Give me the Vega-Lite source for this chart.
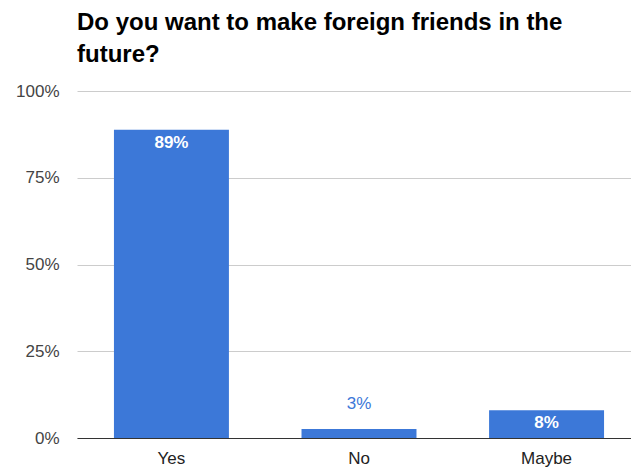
{
  "$schema": "https://vega.github.io/schema/vega-lite/v6.json",
  "width": 564,
  "height": 347,
  "autosize": {"type": "none"},
  "padding": {"left": 77, "top": 91, "right": 0, "bottom": 35},
  "background": "white",
  "title": {
    "text": ["Do you want to make foreign friends in the", "future?"],
    "anchor": "start",
    "frame": "group",
    "font": "Liberation Sans",
    "fontSize": 24,
    "fontWeight": "bold",
    "color": "#000000",
    "lineHeight": 32,
    "offset": 15
  },
  "data": {
    "values": [
      {"answer": "Yes", "value": 0.888},
      {"answer": "No", "value": 0.026},
      {"answer": "Maybe", "value": 0.08}
    ]
  },
  "encoding": {
    "x": {
      "field": "answer",
      "type": "nominal",
      "sort": null,
      "scale": {"paddingInner": 0.387, "paddingOuter": 0.197},
      "axis": {
        "title": null,
        "labelAngle": 0,
        "ticks": false,
        "domainColor": "#333333",
        "labelFont": "Liberation Sans",
        "labelFontSize": 17,
        "labelColor": "#222222",
        "labelPadding": 12
      }
    },
    "y": {
      "field": "value",
      "type": "quantitative",
      "scale": {"domain": [0, 1], "nice": false},
      "axis": {
        "title": null,
        "values": [0, 0.25, 0.5, 0.75, 1],
        "format": ".0%",
        "domain": false,
        "ticks": false,
        "gridColor": "#cccccc",
        "labelFont": "Liberation Sans",
        "labelFontSize": 17,
        "labelColor": "#444444",
        "labelPadding": 18
      }
    }
  },
  "layer": [
    {"mark": {"type": "bar", "color": "#3c78d8"}},
    {
      "transform": [{"filter": "datum.value >= 0.05"}],
      "mark": {"type": "text", "baseline": "top", "dy": 5, "color": "#ffffff", "font": "Liberation Sans", "fontSize": 17, "fontWeight": "bold"},
      "encoding": {"text": {"field": "value", "type": "quantitative", "format": ".0%"}}
    },
    {
      "transform": [{"filter": "datum.value < 0.05"}],
      "mark": {"type": "text", "baseline": "bottom", "dy": -16, "color": "#3c78d8", "font": "Liberation Sans", "fontSize": 17},
      "encoding": {"text": {"field": "value", "type": "quantitative", "format": ".0%"}}
    }
  ],
  "config": {"view": {"stroke": null}}
}
